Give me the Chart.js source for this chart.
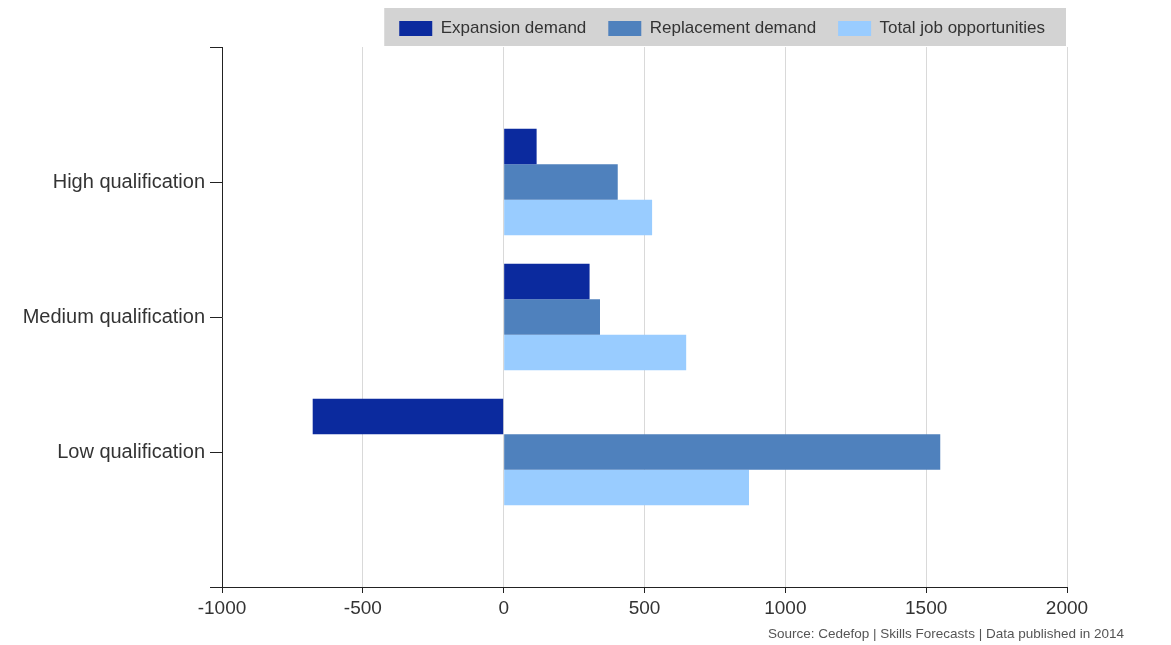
<!DOCTYPE html>
<html>
<head>
<meta charset="utf-8">
<script src="https://cdn.jsdelivr.net/npm/chart.js@4.4.1/dist/chart.umd.min.js"></script>
<style>
  html, body { margin: 0; padding: 0; background: #ffffff; }
  #wrap { position: relative; width: 1171px; height: 645px; }
  #source { position: absolute; right: 47px; top: 626px; font: 13.5px "Liberation Sans", Arial, sans-serif; color: #555; white-space: nowrap; }
</style>
</head>
<body>
<div id="wrap">
  <canvas id="c" width="1171" height="645"></canvas>
  <div id="source">Source: Cedefop | Skills Forecasts | Data published in 2014</div>
</div>
<script>
// Categories (blank end slots give the empty space above and below the groups)
const categories = ['', 'High qualification', 'Medium qualification', 'Low qualification', ''];
const seriesNames = ['Expansion demand', 'Replacement demand', 'Total job opportunities'];
const expansionDemand = [null, 117, 305, -678, null];
const replacementDemand = [null, 405, 342, 1550, null];
const totalJobOpportunities = [null, 527, 648, 871, null];
const xTicks = [-1000, -500, 0, 500, 1000, 1500, 2000];

const colors = ['#0b2a9e', '#4f81bd', '#99ccff'];

Chart.defaults.font.family = '"Liberation Sans", Arial, sans-serif';
Chart.defaults.color = '#333';

const legendBg = {
  id: 'legendBg',
  beforeDraw(chart) {
    const lg = chart.legend;
    if (!lg || !lg.legendHitBoxes || !lg.legendHitBoxes.length) return;
    const hb = lg.legendHitBoxes;
    const first = hb[0], last = hb[hb.length - 1];
    const ctx = chart.ctx;
    ctx.save();
    ctx.fillStyle = '#d3d3d3';
    const x0 = first.left - 15;
    const x1 = last.left + last.width + 21;
    const y0 = first.top - 12;
    const y1 = first.top + first.height + 9;
    ctx.fillRect(x0, y0, x1 - x0, y1 - y0);
    ctx.restore();
  }
};

new Chart(document.getElementById('c'), {
  type: 'bar',
  data: {
    labels: categories,
    datasets: [
      { label: seriesNames[0], data: expansionDemand, backgroundColor: colors[0] },
      { label: seriesNames[1], data: replacementDemand, backgroundColor: colors[1] },
      { label: seriesNames[2], data: totalJobOpportunities, backgroundColor: colors[2] }
    ]
  },
  options: {
    indexAxis: 'y',
    responsive: false,
    animation: false,
    devicePixelRatio: 1,
    categoryPercentage: 0.79,
    barPercentage: 1.0,
    layout: { padding: { top: -2, right: 104, bottom: 0, left: 0 } },
    plugins: {
      legend: {
        position: 'top',
        align: 'end',
        fullSize: false,
        labels: {
          boxWidth: 33,
          boxHeight: 15,
          padding: 22,
          color: '#333',
          font: { size: 17 }
        }
      },
      tooltip: { enabled: false }
    },
    scales: {
      x: {
        type: 'linear',
        min: xTicks[0],
        max: xTicks[xTicks.length - 1],
        afterBuildTicks(scale) { scale.ticks = xTicks.map(v => ({ value: v })); },
        afterFit(scale) { scale.height = 58; },
        grid: { color: '#d9d9d9', tickColor: '#222', tickLength: 6, lineWidth: 1 },
        border: { color: '#222', width: 1 },
        ticks: {
          padding: 4,
          color: '#333',
          font: { size: 19 },
          callback: (v) => String(v)
        }
      },
      y: {
        type: 'category',
        offset: false,
        afterFit(scale) { scale.width = 222; },
        grid: { offset: false, drawOnChartArea: false, tickColor: '#222', tickLength: 12 },
        border: { color: '#222', width: 1 },
        ticks: {
          padding: 5,
          color: '#333',
          font: { size: 20 },
          autoSkip: false
        }
      }
    }
  },
  plugins: [legendBg]
});
</script>
</body>
</html>
